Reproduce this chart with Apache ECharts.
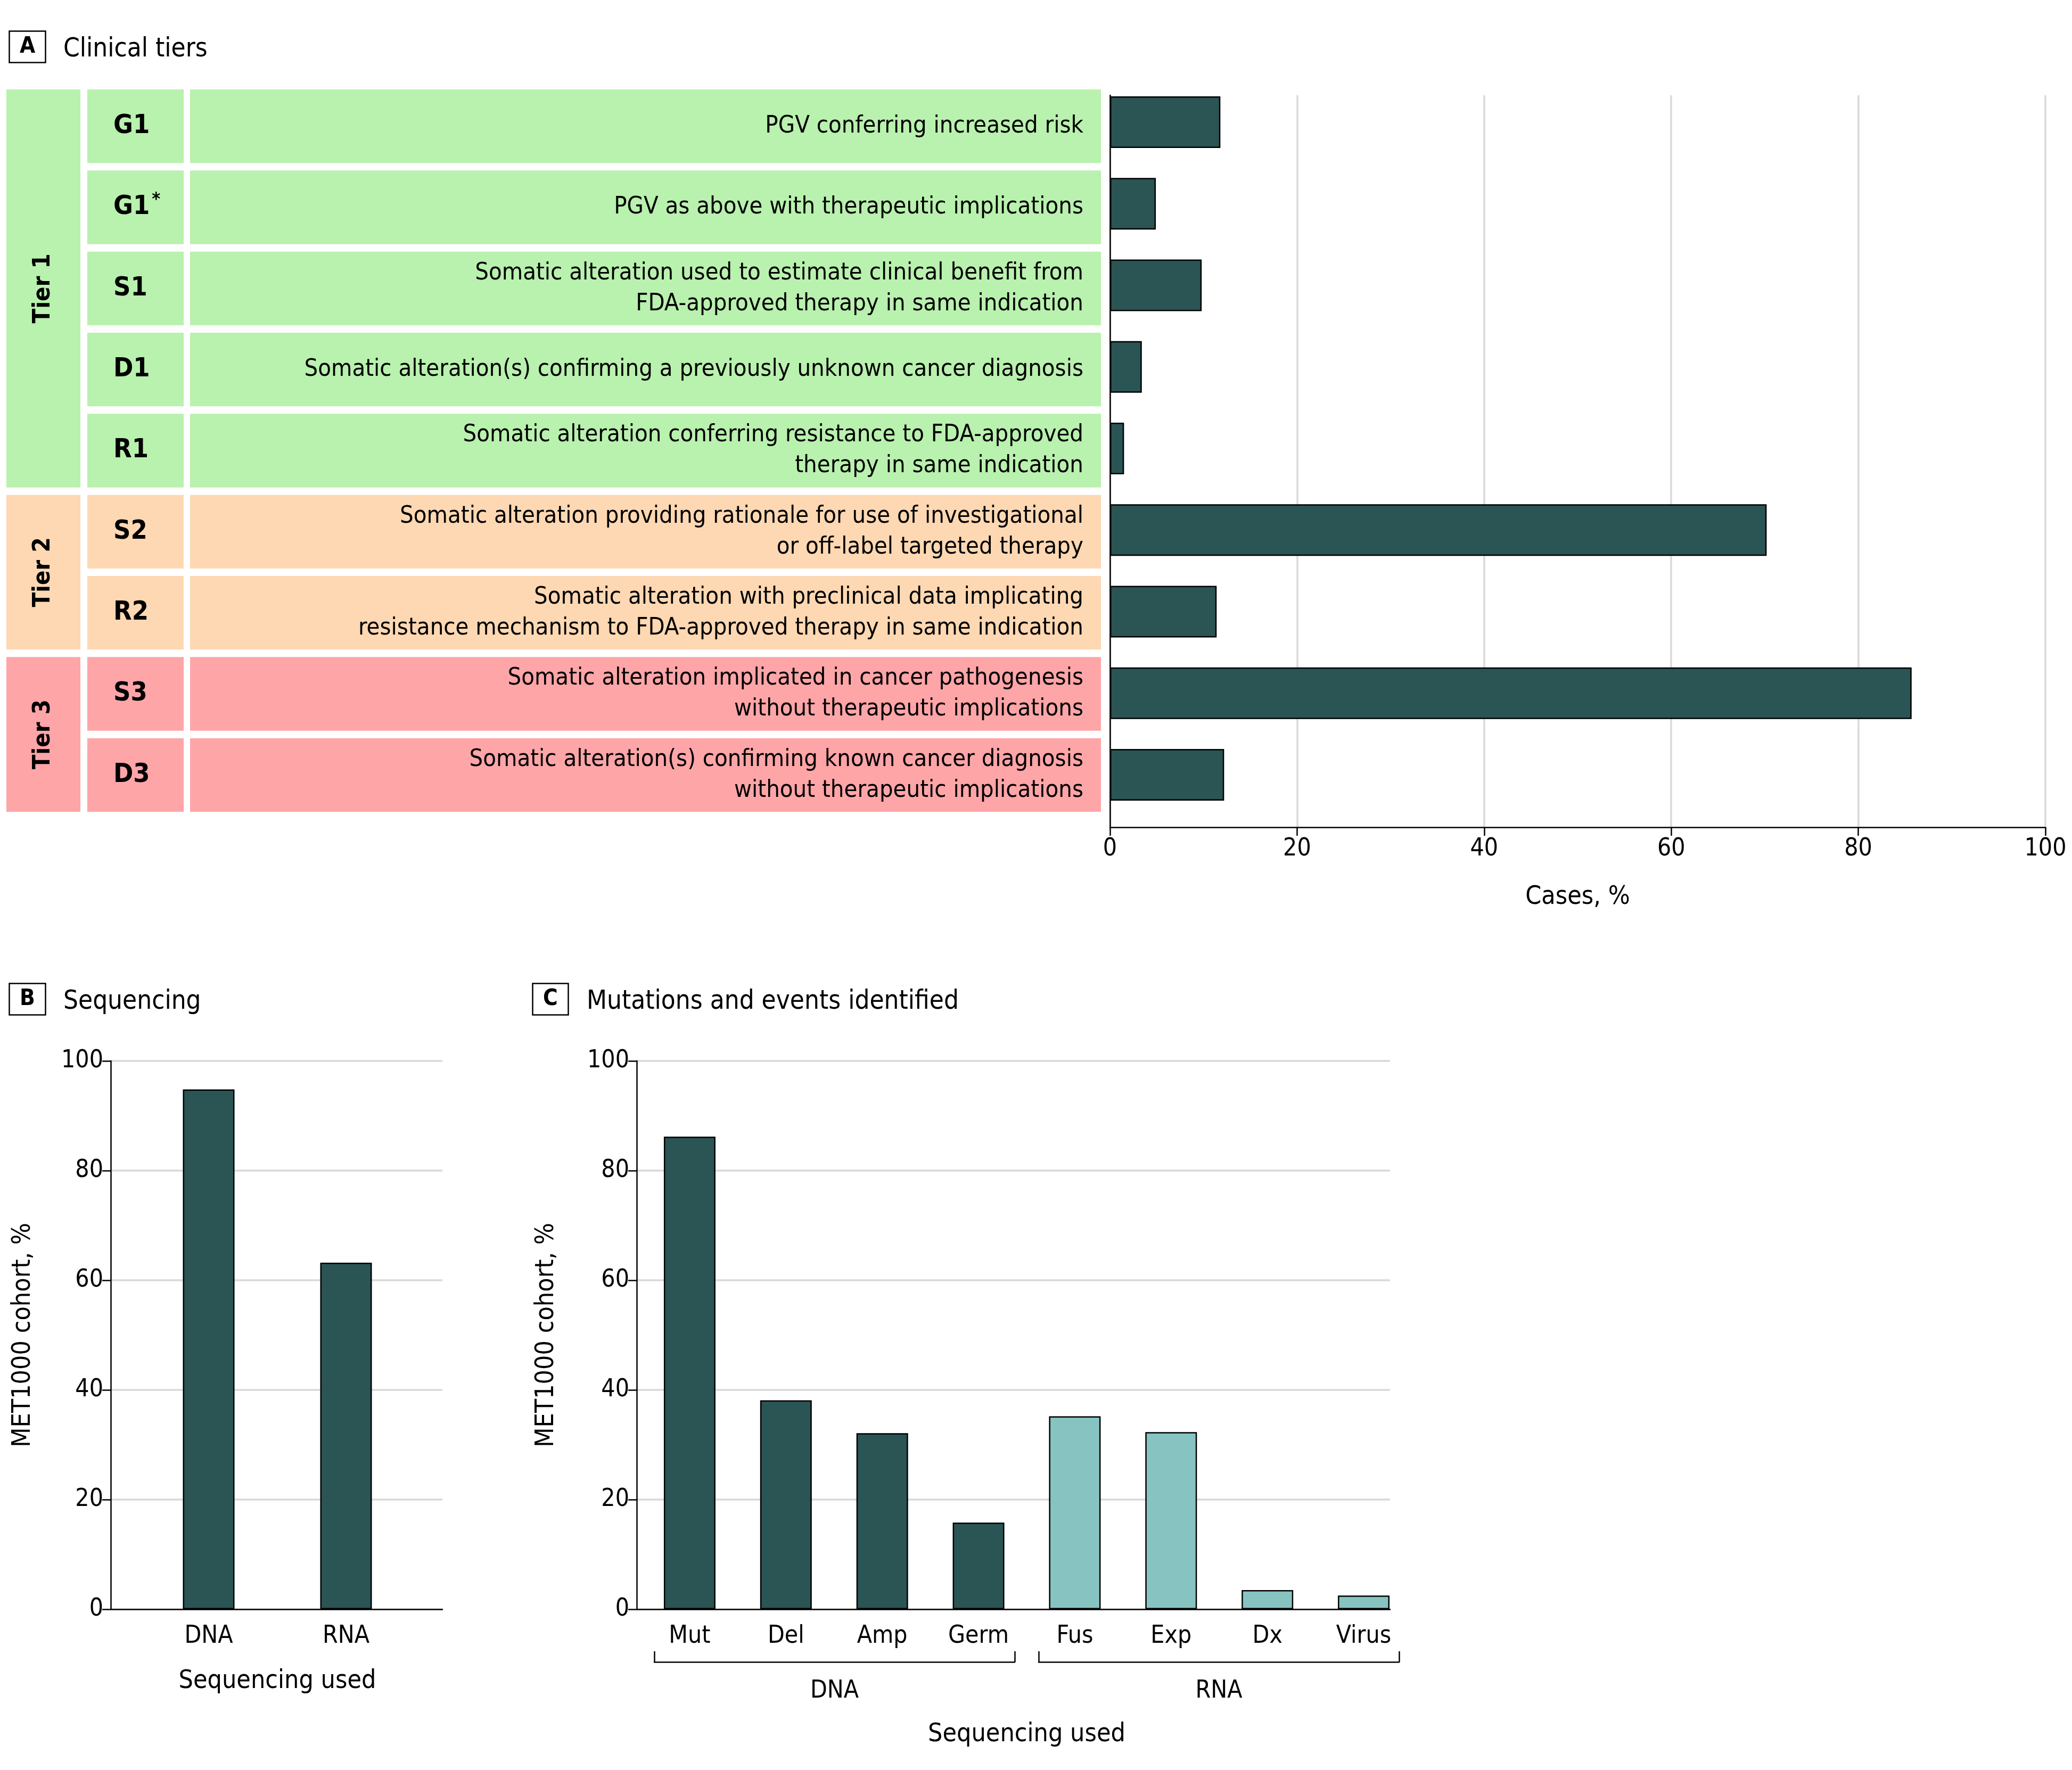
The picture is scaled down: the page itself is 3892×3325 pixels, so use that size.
<!DOCTYPE html>
<html>
<head>
<meta charset="utf-8">
<script src="https://cdn.jsdelivr.net/npm/echarts@6/dist/echarts.min.js"></script>
<style>
  html, body { margin: 0; padding: 0; background: #fff; }
  #chart { width: 3892px; height: 3325px; }
</style>
</head>
<body>
<div id="chart"></div>
<script>
// ---- data ----
var tierNames = ['Tier 1', 'Tier 2', 'Tier 3'];
var tierRows = [[0, 4], [5, 6], [7, 8]];
var codes = ['G1', 'G1*', 'S1', 'D1', 'R1', 'S2', 'R2', 'S3', 'D3'];
var rowTier = [0, 0, 0, 0, 0, 1, 1, 2, 2];
var descriptions = [
  'PGV conferring increased risk',
  'PGV as above with therapeutic implications',
  'Somatic alteration used to estimate clinical benefit from\nFDA-approved therapy in same indication',
  'Somatic alteration(s) confirming a previously unknown cancer diagnosis',
  'Somatic alteration conferring resistance to FDA-approved\ntherapy in same indication',
  'Somatic alteration providing rationale for use of investigational\nor off-label targeted therapy',
  'Somatic alteration with preclinical data implicating\nresistance mechanism to FDA-approved therapy in same indication',
  'Somatic alteration implicated in cancer pathogenesis\nwithout therapeutic implications',
  'Somatic alteration(s) confirming known cancer diagnosis\nwithout therapeutic implications'
];
var casesPct = [11.8, 4.9, 9.8, 3.4, 1.5, 70.2, 11.4, 85.7, 12.2];

var seqCategories = ['DNA', 'RNA'];
var seqPct = [94.8, 63.2];

var eventCategories = ['Mut', 'Del', 'Amp', 'Germ', 'Fus', 'Exp', 'Dx', 'Virus'];
var eventGroup = ['DNA', 'DNA', 'DNA', 'DNA', 'RNA', 'RNA', 'RNA', 'RNA'];
var eventPct = [86.2, 38.1, 32.1, 15.8, 35.2, 32.3, 3.5, 2.5];
var groupNames = ['DNA', 'RNA'];

// ---- styles ----
var FONT = '"Liberation Sans Narrow", "DejaVu Sans Condensed", "Roboto Condensed", sans-serif';
var tierColors = ['#b9f1ae', '#fdd8b3', '#fea5a8'];
var darkBar = '#2b5454';
var lightBar = '#86c3c1';
var gridGray = '#d9d9d9';
var TABLE_W = 2056;
var cols = { tier: [0, 139], code: [152, 333], desc: [345, 2056] };
var CELL_GAP = 14;

var chart = echarts.init(document.getElementById('chart'));

function boxTitle(letter, label, left, top) {
  return [{
    text: letter, left: left, top: top,
    borderColor: '#000', borderWidth: 2.5, padding: [9, 20, 9, 20],
    textStyle: { fontFamily: FONT, fontWeight: 'bold', fontSize: 42, lineHeight: 42, color: '#000' }
  }, {
    text: label, left: left + 97, top: top + 5,
    textStyle: { fontFamily: FONT, fontWeight: 'normal', fontSize: 49, lineHeight: 50, color: '#000' }
  }];
}

function rowCells(params, api) {
  var i = params.dataIndex;
  var c = api.coord([0, i]);
  var band = api.size([0, 1])[1];
  var x0 = c[0];
  var top = c[1] - band / 2 + CELL_GAP / 2;
  var h = band - CELL_GAP;
  var color = tierColors[rowTier[i]];
  var codeText = codes[i].replace('*', '');
  var star = codes[i].indexOf('*') >= 0;
  return {
    type: 'group',
    children: [
      { type: 'rect', shape: { x: x0 + cols.code[0], y: top, width: cols.code[1] - cols.code[0], height: h }, style: { fill: color } },
      { type: 'rect', shape: { x: x0 + cols.desc[0], y: top, width: cols.desc[1] - cols.desc[0], height: h }, style: { fill: color } },
      { type: 'text', x: x0 + cols.code[0] + 49, y: c[1],
        style: {
          text: star ? '{c|' + codeText + '}{s|*}' : '{c|' + codeText + '}',
          verticalAlign: 'middle', align: 'left',
          rich: {
            c: { fontFamily: FONT, fontWeight: 'bold', fontSize: 50, fill: '#000' },
            s: { fontFamily: FONT, fontWeight: 'bold', fontSize: 34, fill: '#000', padding: [0, 0, 26, 4] }
          }
        } },
      { type: 'text', x: x0 + cols.desc[1] - 33, y: c[1],
        style: { text: descriptions[i], align: 'right', verticalAlign: 'middle',
          fontFamily: FONT, fontSize: 45, lineHeight: 58, fill: '#000' } }
    ]
  };
}

function tierCells(params, api) {
  var t = params.dataIndex;
  var a = api.coord([0, tierRows[t][0]]);
  var b = api.coord([0, tierRows[t][1]]);
  var band = api.size([0, 1])[1];
  var top = a[1] - band / 2 + CELL_GAP / 2;
  var bottom = b[1] + band / 2 - CELL_GAP / 2;
  var x = a[0] + cols.tier[0];
  var w = cols.tier[1] - cols.tier[0];
  return {
    type: 'group',
    children: [
      { type: 'rect', shape: { x: x, y: top, width: w, height: bottom - top }, style: { fill: tierColors[t] } },
      { type: 'text', x: x + w / 2, y: (top + bottom) / 2, rotation: Math.PI / 2,
        style: { text: tierNames[t], align: 'center', verticalAlign: 'middle',
          fontFamily: FONT, fontWeight: 'bold', fontSize: 45, fill: '#000' } }
    ]
  };
}

var axisText = { fontFamily: FONT, fontSize: 46, color: '#000' };
var blackLine = { show: true, lineStyle: { color: '#000', width: 2.5 } };
var graySplit = { show: true, lineStyle: { color: gridGray, width: 3.5 } };
var hiddenVal = function (g) {
  return { type: 'value', gridIndex: g, min: 0, max: 100, show: false };
};

var option = {
  backgroundColor: '#fff',
  animation: false,
  title: [].concat(
    boxTitle('A', 'Clinical tiers', 17, 58),
    boxTitle('B', 'Sequencing', 17, 1847),
    boxTitle('C', 'Mutations and events identified', 1000, 1847)
  ),
  grid: [
    { left: 12, top: 161, width: TABLE_W, height: 1371 },   // 0 table
    { left: 2085, top: 153, width: 1757, height: 1379 },    // 1 A bars
    { left: 2085, top: 179, width: 1757, height: 1375 },    // 2 A axes
    { left: 208, top: 1993, width: 623, height: 1030 },     // 3 B axes
    { left: 263, top: 1993, width: 516, height: 1030 },     // 4 B bars
    { left: 1196, top: 1993, width: 1415, height: 1030 },   // 5 C axes
    { left: 1205, top: 1993, width: 1447, height: 1030 },   // 6 C bars
    { left: 1229, top: 3050, width: 677, height: 72 },      // 7 DNA bracket
    { left: 1951, top: 3050, width: 677, height: 72 }       // 8 RNA bracket
  ],
  xAxis: [
    { type: 'value', gridIndex: 0, min: 0, max: TABLE_W, show: false },
    hiddenVal(1),
    { type: 'value', gridIndex: 2, min: 0, max: 100, interval: 20,
      axisLine: blackLine, axisTick: { show: true, length: 16, lineStyle: { color: '#000', width: 2.5 } },
      axisLabel: Object.assign({ margin: 18 }, axisText), splitLine: graySplit,
      name: 'Cases, %', nameLocation: 'middle', nameGap: 108,
      nameTextStyle: { fontFamily: FONT, fontSize: 48, color: '#000' } },
    { type: 'value', gridIndex: 3, min: 0, max: 1, axisLine: blackLine, axisTick: { show: false },
      axisLabel: { show: false }, splitLine: { show: false } },
    { type: 'category', gridIndex: 4, data: seqCategories, axisLine: { show: false }, axisTick: { show: false },
      axisLabel: Object.assign({ margin: 28 }, axisText),
      name: 'Sequencing used', nameLocation: 'middle', nameGap: 112,
      nameTextStyle: { fontFamily: FONT, fontSize: 48, color: '#000' } },
    { type: 'value', gridIndex: 5, min: 0, max: 1, axisLine: blackLine, axisTick: { show: false },
      axisLabel: { show: false }, splitLine: { show: false } },
    { type: 'category', gridIndex: 6, data: eventCategories, axisLine: { show: false }, axisTick: { show: false },
      axisLabel: Object.assign({ margin: 28 }, axisText),
      name: 'Sequencing used', nameLocation: 'middle', nameGap: 212,
      nameTextStyle: { fontFamily: FONT, fontSize: 48, color: '#000' } },
    { type: 'category', gridIndex: 7, data: [groupNames[0]], axisLine: blackLine,
      axisTick: { show: true, inside: true, length: 20, lineStyle: { color: '#000', width: 2.5 } },
      axisLabel: Object.assign({ margin: 32 }, axisText) },
    { type: 'category', gridIndex: 8, data: [groupNames[1]], axisLine: blackLine,
      axisTick: { show: true, inside: true, length: 20, lineStyle: { color: '#000', width: 2.5 } },
      axisLabel: Object.assign({ margin: 32 }, axisText) }
  ],
  yAxis: [
    { type: 'category', gridIndex: 0, data: codes, inverse: true, show: false },
    { type: 'category', gridIndex: 1, data: codes, inverse: true, show: false },
    { type: 'value', gridIndex: 2, min: 0, max: 1, axisLine: blackLine, axisTick: { show: false },
      axisLabel: { show: false }, splitLine: { show: false } },
    { type: 'value', gridIndex: 3, min: 0, max: 100, interval: 20,
      axisLine: blackLine, axisTick: { show: true, length: 16, lineStyle: { color: '#000', width: 2.5 } },
      axisLabel: Object.assign({ margin: 14 }, axisText), splitLine: graySplit,
      name: 'MET1000 cohort, %', nameLocation: 'middle', nameGap: 140, nameRotate: 90,
      nameTextStyle: { fontFamily: FONT, fontSize: 48, color: '#000' } },
    hiddenVal(4),
    { type: 'value', gridIndex: 5, min: 0, max: 100, interval: 20,
      axisLine: blackLine, axisTick: { show: true, length: 16, lineStyle: { color: '#000', width: 2.5 } },
      axisLabel: Object.assign({ margin: 14 }, axisText), splitLine: graySplit,
      name: 'MET1000 cohort, %', nameLocation: 'middle', nameGap: 145, nameRotate: 90,
      nameTextStyle: { fontFamily: FONT, fontSize: 48, color: '#000' } },
    hiddenVal(6),
    { type: 'value', gridIndex: 7, show: false },
    { type: 'value', gridIndex: 8, show: false }
  ],
  series: [
    { type: 'custom', xAxisIndex: 0, yAxisIndex: 0, renderItem: tierCells,
      data: tierNames.map(function (n, t) { return [0, tierRows[t][0]]; }) },
    { type: 'custom', xAxisIndex: 0, yAxisIndex: 0, renderItem: rowCells,
      data: codes.map(function (c, i) { return [0, i]; }) },
    { type: 'bar', xAxisIndex: 1, yAxisIndex: 1, data: casesPct, barWidth: 97,
      itemStyle: { color: darkBar, borderColor: '#000', borderWidth: 2.5 } },
    { type: 'bar', xAxisIndex: 4, yAxisIndex: 4, data: seqPct, barWidth: 97,
      itemStyle: { color: darkBar, borderColor: '#000', borderWidth: 2.5 } },
    { type: 'bar', xAxisIndex: 6, yAxisIndex: 6, barWidth: 97,
      data: eventPct.map(function (v, i) {
        return { value: v, itemStyle: { color: eventGroup[i] === 'DNA' ? darkBar : lightBar } };
      }),
      itemStyle: { borderColor: '#000', borderWidth: 2.5 } }
  ]
};

chart.setOption(option);
window.onresize = function () { chart.resize(); };
</script>
</body>
</html>
